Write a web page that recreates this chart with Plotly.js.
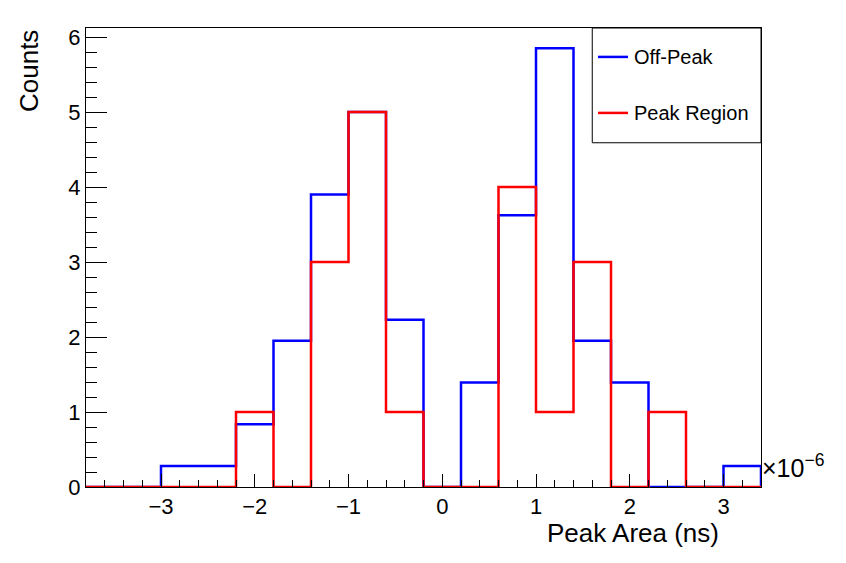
<!DOCTYPE html>
<html>
<head>
<meta charset="utf-8">
<script src="https://cdn.plot.ly/plotly-3.0.1.min.js"></script>
<style>
  html, body { margin: 0; padding: 0; background: #fff; }
  #chart { width: 846px; height: 563px; }
</style>
</head>
<body>
<div id="chart"></div>
<script>
/* ---------- data (peak area in units of 1e-6 ns) ---------- */
const binEdges = [-3.8, -3.4, -3.0, -2.6, -2.2, -1.8, -1.4, -1.0, -0.6, -0.2,
                  0.2, 0.6, 1.0, 1.4, 1.8, 2.2, 2.6, 3.0, 3.4];
const offPeak = [0, 0, 0.279, 0.279, 0.836, 1.950, 3.900, 5.0, 2.229, 0,
                 1.393, 3.622, 5.850, 1.950, 1.393, 0, 0, 0.279];
const peakRegion = [0, 0, 0, 0, 1, 0, 3, 5, 1, 0,
                    0, 4, 1, 3, 0, 1, 0, 0];
const seriesNames = ["Off-Peak", "Peak Region"];
const seriesColors = ["#0000ff", "#ff0000"];

const FONT = "Liberation Sans, Arial, Helvetica, sans-serif";

// step outline: value of bin i held from edge i to edge i+1, then drop to 0
function stepTrace(values, name, color) {
  const xs = binEdges.slice();
  const ys = values.concat([values[values.length - 1]]);
  xs.push(binEdges[binEdges.length - 1]);
  ys.push(0);
  return {
    type: "scatter",
    mode: "lines",
    name: name,
    x: xs,
    y: ys,
    line: { shape: "hv", color: color, width: 2.5 },
    hoverinfo: "x+y+name",
  };
}

const traces = [
  stepTrace(offPeak, seriesNames[0], seriesColors[0]),
  stepTrace(peakRegion, seriesNames[1], seriesColors[1]),
];

/* ---------- hand-made legend box (ROOT style) ---------- */
const legendRows = [0.937, 0.815];
const shapes = [
  {
    type: "rect", xref: "paper", yref: "paper",
    x0: 0.75, x1: 1, y0: 0.75, y1: 1,
    line: { color: "#000", width: 1 }, fillcolor: "#fff",
  },
];
const annotations = [];
seriesNames.forEach((nm, i) => {
  shapes.push({
    type: "line", xref: "paper", yref: "paper",
    x0: 0.7585, x1: 0.803, y0: legendRows[i], y1: legendRows[i],
    line: { color: seriesColors[i], width: 2.5 },
  });
  annotations.push({
    xref: "paper", yref: "paper", x: 0.809, y: legendRows[i],
    xanchor: "left", yanchor: "middle", showarrow: false,
    text: nm, font: { family: FONT, size: 20, color: "#000" },
  });
});

// axis titles and exponent label
annotations.push(
  {
    xref: "paper", yref: "paper", x: -0.0844, y: 1,
    xanchor: "center", yanchor: "top", showarrow: false, textangle: -90,
    text: "Counts", font: { family: FONT, size: 26, color: "#000" },
  },
  {
    xref: "paper", yref: "paper", x: 0.941, y: -0.1,
    xanchor: "right", yanchor: "middle", showarrow: false,
    text: "Peak Area (ns)", font: { family: FONT, size: 26, color: "#000" },
  },
  {
    xref: "paper", yref: "paper", x: 0.999, y: 0.045,
    xanchor: "left", yanchor: "middle", showarrow: false,
    text: "×10<sup>−6</sup>", font: { family: FONT, size: 25, color: "#000" },
  }
);

const layout = {
  width: 846,
  height: 563,
  margin: { l: 86, r: 85, t: 28, b: 76 },
  paper_bgcolor: "#fff",
  plot_bgcolor: "#fff",
  showlegend: false,
  font: { family: FONT, size: 22, color: "#000" },
  xaxis: {
    range: [-3.8, 3.4],
    tick0: 0, dtick: 1,
    ticks: "inside", ticklen: 13, tickcolor: "#000", tickwidth: 1,
    minor: { dtick: 0.2, ticks: "inside", ticklen: 7, tickcolor: "#000", tickwidth: 1 },
    showgrid: false, zeroline: false,
    showline: true, mirror: true, linecolor: "#000", linewidth: 1,
    tickfont: { family: FONT, size: 22, color: "#000" },
  },
  yaxis: {
    range: [0, 6.12],
    tick0: 0, dtick: 1,
    ticks: "inside", ticklen: 21, tickcolor: "#000", tickwidth: 1,
    minor: { dtick: 0.2, ticks: "inside", ticklen: 11, tickcolor: "#000", tickwidth: 1 },
    showgrid: false, zeroline: false,
    showline: true, mirror: true, linecolor: "#000", linewidth: 1,
    tickfont: { family: FONT, size: 22, color: "#000" },
  },
  shapes: shapes,
  annotations: annotations,
};

Plotly.newPlot("chart", traces, layout, { displayModeBar: false, staticPlot: true });
</script>
</body>
</html>
